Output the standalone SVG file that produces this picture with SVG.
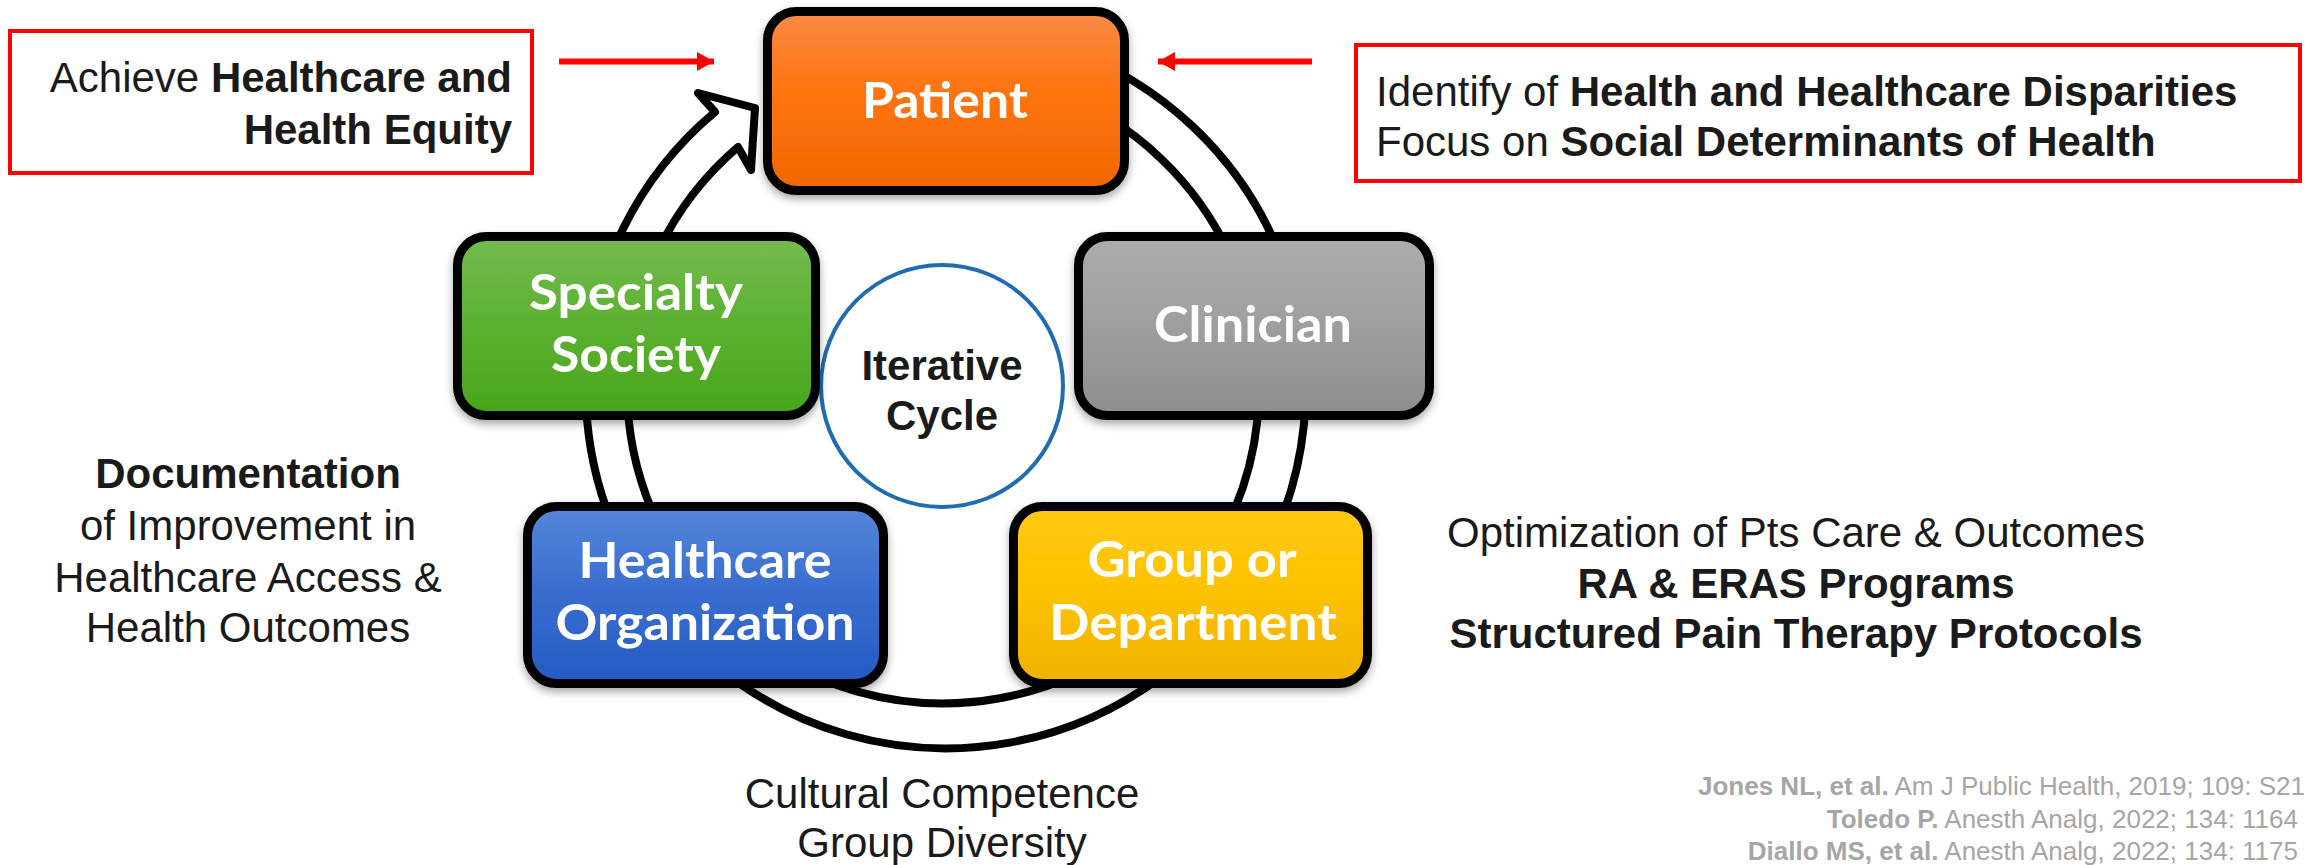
<svg xmlns="http://www.w3.org/2000/svg" width="2305" height="865" viewBox="0 0 2305 865">
  <defs>
    <style>
      .t { font-family: "Liberation Sans", Arial, sans-serif; font-size: 42px; fill: #1a1a1a; }
      .b { font-weight: bold; }
      .lbl { font-family: Lato, "Open Sans", sans-serif; font-weight: bold; font-size: 50px; fill: #ffffff; text-anchor: middle; }
      .box { stroke: #000; stroke-width: 9; }
      .redbox { fill: #fff; stroke: #ff0000; stroke-width: 4; }
      .ref { font-family: "Liberation Sans", Arial, sans-serif; font-size: 26px; fill: #a6a6a6; }
    </style>
    <linearGradient id="gOrange" x1="0" y1="0" x2="0" y2="1">
      <stop offset="0" stop-color="#f98a45"/>
      <stop offset="0.45" stop-color="#ff7410"/>
      <stop offset="1" stop-color="#f06700"/>
    </linearGradient>
    <linearGradient id="gGreen" x1="0" y1="0" x2="0" y2="1">
      <stop offset="0" stop-color="#74bb52"/>
      <stop offset="0.45" stop-color="#5db232"/>
      <stop offset="1" stop-color="#48a51c"/>
    </linearGradient>
    <linearGradient id="gGray" x1="0" y1="0" x2="0" y2="1">
      <stop offset="0" stop-color="#adadad"/>
      <stop offset="0.45" stop-color="#a0a0a0"/>
      <stop offset="1" stop-color="#8e8e8e"/>
    </linearGradient>
    <linearGradient id="gBlue" x1="0" y1="0" x2="0" y2="1">
      <stop offset="0" stop-color="#5685d9"/>
      <stop offset="0.45" stop-color="#3a6fd0"/>
      <stop offset="1" stop-color="#245ac2"/>
    </linearGradient>
    <linearGradient id="gYellow" x1="0" y1="0" x2="0" y2="1">
      <stop offset="0" stop-color="#ffca10"/>
      <stop offset="0.45" stop-color="#ffc200"/>
      <stop offset="1" stop-color="#efb200"/>
    </linearGradient>
    <filter id="shadow" x="-10%" y="-10%" width="120%" height="130%">
      <feDropShadow dx="0" dy="4" stdDeviation="4" flood-color="#000" flood-opacity="0.35"/>
    </filter>
    <marker id="redHead" markerUnits="userSpaceOnUse" markerWidth="18" markerHeight="20" refX="17" refY="9.5" orient="auto">
      <path d="M0,0 L17,9.5 L0,19 Z" fill="#ff0000"/>
    </marker>
  </defs>

  <rect x="0" y="0" width="2305" height="865" fill="#ffffff"/>

  <g id="connectors">
    <path id="cycle-arrow" d="M 1065.1 48.7 A 360 360 0 1 1 715 112 L 698 93 L 755 108 L 751 170 L 738 147 A 316 316 0 1 0 1050.1 90.1 Z" fill="#ffffff" stroke="#000" stroke-width="8" stroke-linejoin="round"/>
    <line x1="559" y1="61.5" x2="714" y2="61.5" stroke="#ff0000" stroke-width="6" marker-end="url(#redHead)"/>
    <line x1="1312" y1="61.5" x2="1158" y2="61.5" stroke="#ff0000" stroke-width="6" marker-end="url(#redHead)"/>
  </g>

  <g id="center-circle">
    <circle cx="942" cy="386" r="121" fill="#ffffff" stroke="#1f6cb0" stroke-width="4"/>
    <text class="t b" x="942" y="380" text-anchor="middle" fill="#000">Iterative</text>
    <text class="t b" x="942" y="430" text-anchor="middle" fill="#000">Cycle</text>
  </g>

  <g id="node-patient" filter="url(#shadow)">
    <rect class="box" x="767.5" y="11.5" width="357" height="179" rx="29" fill="url(#gOrange)"/>
    <text class="lbl" x="945" y="118" textLength="166" lengthAdjust="spacingAndGlyphs">Patient</text>
  </g>

  <g id="node-specialty" filter="url(#shadow)">
    <rect class="box" x="457.5" y="236.5" width="358" height="179" rx="29" fill="url(#gGreen)"/>
    <text class="lbl" x="636" y="310" textLength="214" lengthAdjust="spacingAndGlyphs">Specialty</text>
    <text class="lbl" x="636" y="372" textLength="170" lengthAdjust="spacingAndGlyphs">Society</text>
  </g>

  <g id="node-clinician" filter="url(#shadow)">
    <rect class="box" x="1078.5" y="236.5" width="351" height="179" rx="29" fill="url(#gGray)"/>
    <text class="lbl" x="1253" y="342" textLength="198" lengthAdjust="spacingAndGlyphs" fill="#f4f4f4">Clinician</text>
  </g>

  <g id="node-healthcare-org" filter="url(#shadow)">
    <rect class="box" x="527.5" y="506.5" width="356" height="177" rx="29" fill="url(#gBlue)"/>
    <text class="lbl" x="705" y="578" textLength="253" lengthAdjust="spacingAndGlyphs">Healthcare</text>
    <text class="lbl" x="705" y="640" textLength="299" lengthAdjust="spacingAndGlyphs">Organization</text>
  </g>

  <g id="node-group" filter="url(#shadow)">
    <rect class="box" x="1013.5" y="506.5" width="354" height="177" rx="29" fill="url(#gYellow)"/>
    <text class="lbl" x="1192" y="577" textLength="209" lengthAdjust="spacingAndGlyphs">Group or</text>
    <text class="lbl" x="1193" y="640" textLength="288" lengthAdjust="spacingAndGlyphs">Department</text>
  </g>

  <g id="note-equity">
    <rect class="redbox" x="10" y="31" width="522" height="142"/>
    <text class="t" x="512" y="92" text-anchor="end">Achieve <tspan class="b">Healthcare and</tspan></text>
    <text class="t b" x="512" y="144" text-anchor="end">Health Equity</text>
  </g>

  <g id="note-disparities">
    <rect class="redbox" x="1356" y="45" width="944" height="136"/>
    <text class="t" x="1376" y="106">Identify of <tspan class="b">Health and Healthcare Disparities</tspan></text>
    <text class="t" x="1376" y="156">Focus on <tspan class="b">Social Determinants of Health</tspan></text>
  </g>

  <g id="note-documentation">
    <text class="t b" x="248" y="488" text-anchor="middle">Documentation</text>
    <text class="t" x="248" y="540" text-anchor="middle">of Improvement in</text>
    <text class="t" x="248" y="592" text-anchor="middle">Healthcare Access &amp;</text>
    <text class="t" x="248" y="642" text-anchor="middle">Health Outcomes</text>
  </g>

  <g id="note-optimization">
    <text class="t" x="1796" y="547" text-anchor="middle">Optimization of Pts Care &amp; Outcomes</text>
    <text class="t b" x="1796" y="598" text-anchor="middle">RA &amp; ERAS Programs</text>
    <text class="t b" x="1796" y="648" text-anchor="middle">Structured Pain Therapy Protocols</text>
  </g>

  <g id="note-cultural">
    <text class="t" x="942" y="808" text-anchor="middle">Cultural Competence</text>
    <text class="t" x="942" y="857" text-anchor="middle">Group Diversity</text>
  </g>

  <g id="references">
    <text class="ref" x="1698" y="795"><tspan font-weight="bold">Jones NL, et al.</tspan> Am J Public Health, 2019; 109: S21</text>
    <text class="ref" x="2298" y="828" text-anchor="end"><tspan font-weight="bold">Toledo P.</tspan> Anesth Analg, 2022; 134: 1164</text>
    <text class="ref" x="2298" y="860" text-anchor="end"><tspan font-weight="bold">Diallo MS, et al.</tspan> Anesth Analg, 2022; 134: 1175</text>
  </g>
</svg>
